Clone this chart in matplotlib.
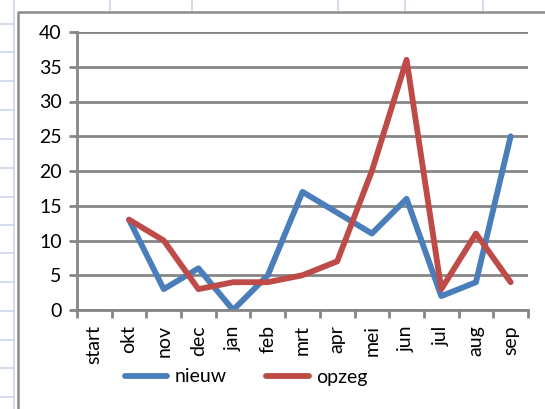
import matplotlib.pyplot as plt
from matplotlib.lines import Line2D
import numpy as np

months = ["start", "okt", "nov", "dec", "jan", "feb", "mrt", "apr", "mei",
          "jun", "jul", "aug", "sep"]
nieuw = [np.nan, 13, 3, 6, 0, 5, 17, 14, 11, 16, 2, 4, 25]
opzeg = [np.nan, 13, 10, 3, 4, 4, 5, 7, 20, 36, 3, 11, 4]

W, H = 545, 409
plt.rcParams['font.family'] = ['Lato', 'DejaVu Sans']

fig = plt.figure(figsize=(W / 100, H / 100), dpi=100)


def fx(px):
    return px / W


def fy(py):
    return 1 - py / H


# spreadsheet background behind the chart
grid_c = "#c9d5e8"
fig.add_artist(Line2D([fx(14), fx(14)], [0, 1], color=grid_c, lw=1.2,
                      transform=fig.transFigure))
for yy in [24, 52, 81, 110, 139, 168, 197, 225, 253, 282, 311, 340, 368, 397]:
    fig.add_artist(Line2D([0, fx(14)], [fy(yy), fy(yy)], color=grid_c, lw=1.2,
                          transform=fig.transFigure))
for xx in [110, 192, 338, 405, 483]:
    fig.add_artist(Line2D([fx(xx), fx(xx)], [1, fy(11)], color=grid_c, lw=1.2,
                          transform=fig.transFigure))

# chart area border
fig.add_artist(Line2D([fx(18), fx(18), 1], [0, fy(12), fy(12)], color="#8c8c8c",
                      lw=1.8, transform=fig.transFigure))

ax = fig.add_axes([fx(77), fy(310), fx(528) - fx(77), fy(32) - fy(310)])
x = np.arange(len(months))

gray = "#868686"
ax.set_ylim(0, 40)
ax.set_xlim(-0.5, len(months) - 0.5)
ax.set_yticks(range(0, 41, 5))
ax.grid(axis='y', color=gray, lw=2)
ax.set_axisbelow(True)

ax.plot(x, nieuw, color="#4a7ebb", lw=4.2, solid_joinstyle='round',
        solid_capstyle='round', label="nieuw")
ax.plot(x, opzeg, color="#be4b48", lw=4.2, solid_joinstyle='round',
        solid_capstyle='round', label="opzeg")

for s in ['top', 'right']:
    ax.spines[s].set_visible(False)
for s in ['left', 'bottom']:
    ax.spines[s].set_color(gray)
    ax.spines[s].set_linewidth(2)

ax.set_xticks(x)
ax.set_xticklabels(months, rotation=90, fontsize=14)
ax.set_xticks(np.arange(-0.5, len(months)), minor=True)
ax.tick_params(axis='x', which='major', length=0, pad=11)
ax.tick_params(axis='x', which='minor', length=6, width=2, color=gray)
ax.tick_params(axis='y', length=6, width=2, color=gray, labelsize=14, pad=5)

fig.legend(loc='center', bbox_to_anchor=(fx(246), fy(377)), ncol=2,
           frameon=False, fontsize=14, handlelength=2.2, handletextpad=0.36,
           columnspacing=2.05)

fig.savefig("out.png", dpi=100)
